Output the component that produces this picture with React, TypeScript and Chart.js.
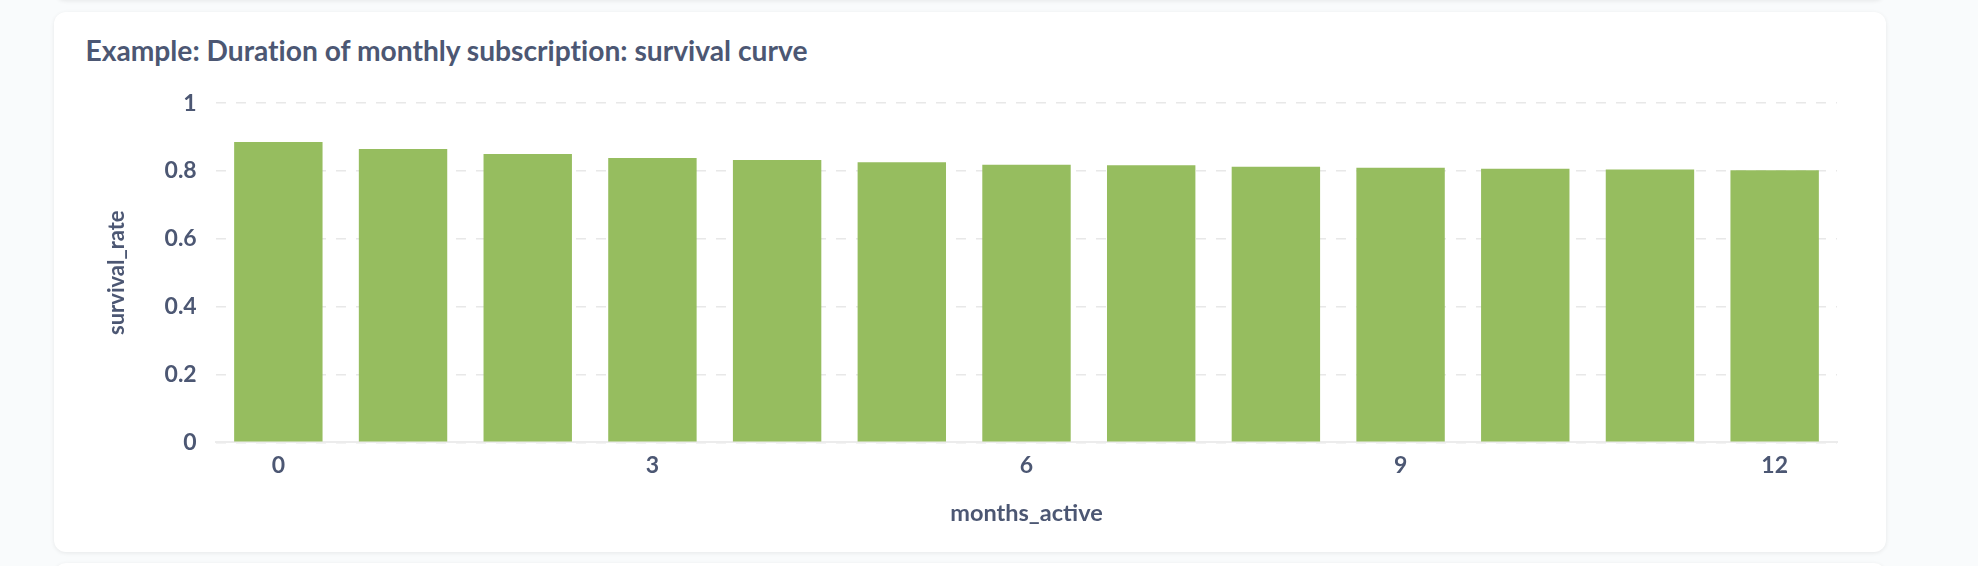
import React, { useEffect, useRef } from "react";
import { Chart, registerables } from "chart.js";

Chart.register(...registerables);

const TITLE = "Example: Duration of monthly subscription: survival curve";
const X_TITLE = "months_active";
const Y_TITLE = "survival_rate";
const MONTHS = ["0", "1", "2", "3", "4", "5", "6", "7", "8", "9", "10", "11", "12"];
const SURVIVAL = [0.885, 0.865, 0.85, 0.838, 0.832, 0.8255, 0.8185, 0.8167, 0.8127, 0.8097, 0.8068, 0.804, 0.802];
const SHOWN_X_TICKS = ["0", "3", "6", "9", "12"];

const TEXT = "#4C5773";
const FONT = "Lato, 'Noto Sans', sans-serif";

const CV_LEFT = 60;
const CV_TOP = 70;
const CV_W = 1820;
const CV_H = 480;

function BarChart() {
  const ref = useRef<HTMLCanvasElement | null>(null);
  useEffect(() => {
    if (!ref.current) return;
    const chart = new Chart(ref.current, {
      type: "bar",
      data: {
        labels: MONTHS,
        datasets: [
          {
            label: Y_TITLE,
            data: SURVIVAL,
            backgroundColor: "#96BD5F",
            borderWidth: 0,
            categoryPercentage: 1,
            barPercentage: 0.709,
          },
        ],
      },
      options: {
        animation: false,
        responsive: false,
        events: [],
        layout: { padding: { left: 0, top: 30.7, right: 43, bottom: 0 } },
        plugins: { legend: { display: false }, tooltip: { enabled: false }, title: { display: false } },
        scales: {
          x: {
            type: "category",
            offset: true,
            grid: { display: false, drawTicks: false },
            border: { display: true, color: "#ECECEC", width: 2 },
            ticks: {
              autoSkip: false,
              maxRotation: 0,
              padding: 9,
              color: TEXT,
              font: { family: FONT, size: 23, weight: "bold" },
              callback: (_v: any, i: number) => (SHOWN_X_TICKS.includes(MONTHS[i]) ? MONTHS[i] : ""),
            },
            title: {
              display: true,
              text: X_TITLE,
              color: TEXT,
              font: { family: FONT, size: 23.5, weight: "bold" },
              padding: { top: 0, bottom: 22.9 },
            },
            afterFit: (s: any) => {
              s.height = 107.7;
            },
          },
          y: {
            min: 0,
            max: 1,
            ticks: {
              stepSize: 0.2,
              padding: 19.3,
              color: TEXT,
              font: { family: FONT, size: 23, weight: "bold" },
              callback: (v: any) => String(Math.round(Number(v) * 10) / 10),
            },
            grid: { color: "#E8E8E8", lineWidth: 1.5, drawTicks: false },
            border: { display: false, dash: [10, 10] },
            title: {
              display: true,
              text: Y_TITLE,
              color: TEXT,
              font: { family: FONT, size: 22, weight: "bold" },
              padding: { top: 43.5, bottom: 0 },
            },
            afterFit: (s: any) => {
              s.width = 156;
            },
          },
        },
      },
    });
    return () => chart.destroy();
  }, []);
  return (
    <canvas
      ref={ref}
      width={CV_W}
      height={CV_H}
      style={{ position: "absolute", left: CV_LEFT, top: CV_TOP, width: CV_W, height: CV_H }}
    />
  );
}

export default function App() {
  return (
    <div style={{ position: "fixed", inset: 0, background: "#F9FBFC", overflow: "hidden", fontFamily: FONT }}>
      <div
        style={{
          position: "absolute",
          left: 54,
          top: -60,
          width: 1832,
          height: 60,
          background: "#fff",
          borderRadius: 12,
          boxShadow: "0 1px 4px rgba(0,0,0,0.08)",
        }}
      />
      <div
        style={{
          position: "absolute",
          left: 54,
          top: 12,
          width: 1832,
          height: 540,
          background: "#fff",
          borderRadius: 12,
          boxShadow: "0 1px 4px rgba(0,0,0,0.08)",
        }}
      >
        <div
          style={{
            position: "absolute",
            left: 31.5,
            top: 20.5,
            fontSize: 28.2,
            fontWeight: 700,
            color: TEXT,
            whiteSpace: "nowrap",
            lineHeight: "34px",
            fontVariantLigatures: "none",
          }}
        >
          {TITLE}
        </div>
      </div>
      <div
        style={{
          position: "absolute",
          left: 54,
          top: 563,
          width: 1832,
          height: 60,
          background: "#fff",
          borderRadius: 12,
          boxShadow: "0 1px 4px rgba(0,0,0,0.08)",
        }}
      />
      <BarChart />
    </div>
  );
}
